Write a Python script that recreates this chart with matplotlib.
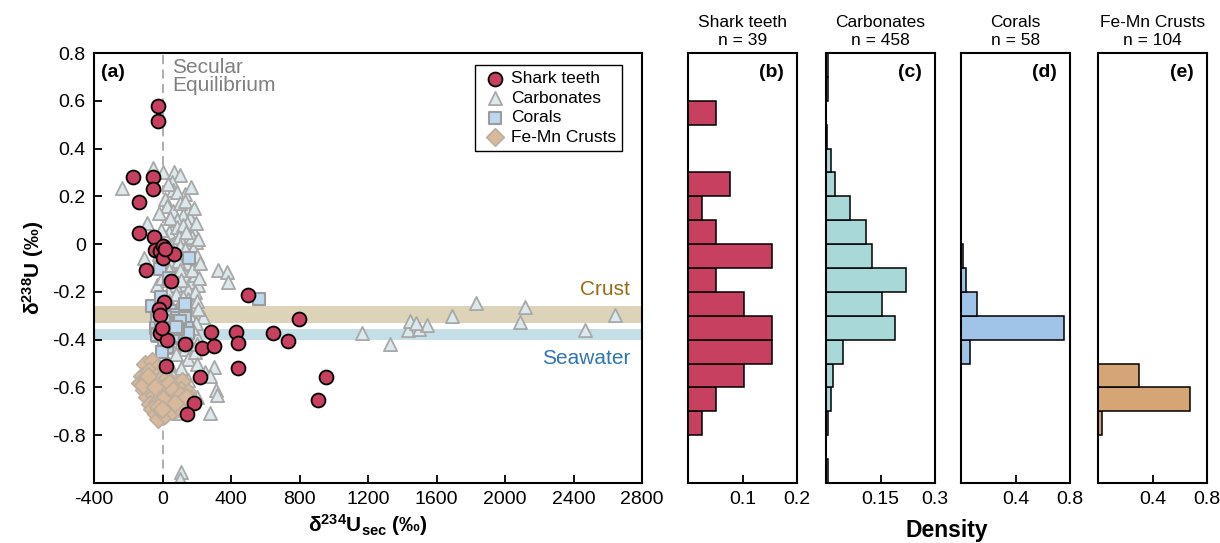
import numpy as np
import matplotlib
matplotlib.use('Agg')
import matplotlib.pyplot as plt

plt.rcParams['font.family'] = ['Liberation Sans', 'DejaVu Sans']
plt.rcParams['mathtext.fontset'] = 'custom'
plt.rcParams['mathtext.rm'] = 'Liberation Sans'
plt.rcParams['mathtext.it'] = 'Liberation Sans:italic'
plt.rcParams['mathtext.bf'] = 'Liberation Sans:bold'
plt.rcParams['axes.unicode_minus'] = False

# --- scatter data: d234U_sec (permil) vs d238U (permil) ---
shark_x = [-25, -25, -170, -54, -54, -136, -136, -48, -42, -13, 0, 5, 68, 15, -95, 50,
           500, 10, -19, -13, -13, 27, 131, 230, 300, 284, 430, 442, 648, 734, 798,
           22, 442, 220, 956, 910, 185, 144, -5]
shark_y = [0.578, 0.515, 0.28, 0.28, 0.23, 0.176, 0.046, 0.029, -0.025, -0.03, -0.01,
           -0.06, -0.04, -0.02, -0.11, -0.155, -0.214, -0.243, -0.27, -0.297, -0.373,
           -0.402, -0.42, -0.436, -0.428, -0.368, -0.368, -0.415, -0.374, -0.405, -0.314,
           -0.511, -0.52, -0.557, -0.557, -0.654, -0.667, -0.712, -0.35]

carb_x = [-235, -55, 5, 68, 100, 57, 62, 131, 30, 85,
          16, 25, 62, 143, 120, 85, 100, 160, 45, -20, 130,
          143, -88, 180, 40, 85, 110, 150, 170, 20, 60, 120, 195, 95, -10, 140,
          100, 130, 180, -20, 30, 80, 150, 45, 110, 170, -110, 200, 60, 10, 135, 90,
          0, 60, 130, 90, 20, 160, -30, 50, 120, 190, 326, 379, 385, 40, 100, 150,
          75, -5, 175, 110, 210, 30,
          190, 80, 10, 150, 40, 100, 170, 60, 130, 0, 120, 200, 20, 85, 160, -20,
          1828, 2114, 2645,
          90, 160, 30, 110, 60, 140, 10, 90, 170, 40, 120, 70, 238, 195, -25, 150,
          200, 55, 125, 1167, 1436, 1500, 1547, 1448, 1483, 2090, 2470, 1693,
          150, 20, 100, 50, 130, 80, 0, 150, 1331, 190, 200,
          40, 110, 60, 150, 303, 250, 200, 20, 280,
          100, 60, 140, 30, 314, 320, 200, 92,
          104, 280, 110, 105,
          210, 220, 185, 205, 175, 215, 195, 165]
carb_y = [0.235, 0.318, 0.30, 0.30, 0.29, 0.26, 0.226, 0.21, 0.25, 0.22,
          0.19, 0.16, 0.14, 0.14, 0.12, 0.10, 0.17, 0.11, 0.11, 0.13, 0.18,
          0.088, 0.088, 0.06, 0.05, 0.07, 0.04, 0.02, 0.03, 0.02, 0.0, 0.08, 0.01, 0.03, 0.06, 0.05,
          -0.01, -0.02, -0.02, -0.04, -0.05, -0.05, -0.06, -0.08, -0.09, -0.1, -0.06, -0.05, -0.03, -0.09, -0.08, -0.07,
          -0.1, -0.12, -0.13, -0.15, -0.15, -0.16, -0.17, -0.18, -0.19, -0.13, -0.11, -0.117, -0.16, -0.11, -0.11, -0.19,
          -0.17, -0.14, -0.11, -0.15, -0.17, -0.2,
          -0.2, -0.21, -0.22, -0.23, -0.24, -0.25, -0.26, -0.27, -0.28, -0.29, -0.22, -0.24, -0.26, -0.29, -0.29, -0.25,
          -0.247, -0.265, -0.298,
          -0.3, -0.3, -0.31, -0.32, -0.33, -0.34, -0.35, -0.36, -0.36, -0.37, -0.38, -0.39, -0.306, -0.33, -0.38, -0.37,
          -0.39, -0.35, -0.35, -0.37, -0.36, -0.357, -0.34, -0.32, -0.33, -0.326, -0.36, -0.30,
          -0.4, -0.41, -0.42, -0.43, -0.44, -0.46, -0.47, -0.48, -0.42, -0.45, -0.42,
          -0.5, -0.52, -0.55, -0.57, -0.515, -0.536, -0.5, -0.59, -0.55,
          -0.62, -0.64, -0.66, -0.69, -0.61, -0.63, -0.64, -0.708,
          -0.708, -0.708, -0.955, -0.985,
          0.02, -0.08, 0.15, -0.27, -0.35, -0.14, 0.09, 0.24]

coral_x = [156, -13, 40, 566, -60, 45, -10, -20, 75, 131,
           -30, 0, 27, 131, -5, 60, 10, 90, 120, 40,
           75, 5, 100, 140, 20, -40, 50, 110, -15, 80,
           30, 130, 0, 65, 95, -25, 15, 55, 145, 85,
           35, -10, 115, 70, 25, 105, 45, -35, 150, 10,
           60, 90, 27, 10, 130, -5, 20, 80]
coral_y = [-0.06, -0.105, -0.14, -0.23, -0.26, -0.28, -0.22, -0.29, -0.295, -0.25,
           -0.31, -0.32, -0.33, -0.356, -0.36, -0.35, -0.38, -0.37, -0.34, -0.36,
           -0.31, -0.34, -0.39, -0.38, -0.37, -0.35, -0.32, -0.36, -0.38, -0.33,
           -0.395, -0.31, -0.34, -0.37, -0.33, -0.375, -0.305, -0.385, -0.35, -0.38,
           -0.34, -0.33, -0.39, -0.355, -0.36, -0.32, -0.39, -0.38, -0.37, -0.32,
           -0.385, -0.355, -0.43, -0.41, -0.42, -0.45, -0.35, -0.345]

femn_x = [-100, -60, -30, -120, -80, -40, 0,
          -130, -95, -55, -15, 25,
          -110, -70, -30, 10, 50, 90, 116,
          -90, -50, -10, 30, 70, 110, 150,
          -75, -35, 5, 45, 85, 125, 165,
          -60, -20, 20, 60, 100, 140, 175,
          -40, 0, 40, 80, 120,
          -25, 15, 55, 95,
          -10, 30, 70, 0, 40, -25,
          -115, -85, -45, 60, 100, 135, -5, 75]
femn_y = [-0.50, -0.49, -0.52, -0.55, -0.53, -0.55, -0.55,
          -0.58, -0.57, -0.58, -0.57, -0.56,
          -0.61, -0.60, -0.61, -0.60, -0.59, -0.58, -0.575,
          -0.64, -0.63, -0.64, -0.63, -0.62, -0.61, -0.62,
          -0.67, -0.66, -0.67, -0.66, -0.65, -0.64, -0.65,
          -0.69, -0.70, -0.69, -0.68, -0.67, -0.66, -0.655,
          -0.71, -0.72, -0.70, -0.69, -0.67,
          -0.73, -0.715, -0.70, -0.685,
          -0.62, -0.60, -0.65, -0.65, -0.58, -0.68,
          -0.59, -0.55, -0.60, -0.61, -0.63, -0.64, -0.69, -0.665]

# --- histogram counts, 0.1 permil bins from -1.0 (bottom) to 0.8 (top) ---
shark_counts = [0, 0, 1, 2, 4, 6, 6, 4, 2, 6, 2, 1, 3, 0, 0, 2, 0, 0]
carb_counts = [2, 0, 2, 6, 9, 21, 87, 70, 101, 58, 50, 30, 11, 6, 1, 0, 2, 2]
coral_counts = [0, 0, 0, 0, 0, 4, 44, 7, 2, 1, 0, 0, 0, 0, 0, 0, 0, 0]
femn_counts = [0, 0, 3, 70, 31, 0, 0, 0, 0, 0, 0, 0, 0, 0, 0, 0, 0, 0]

bin_edges = np.round(np.arange(-1.0, 0.8001, 0.1), 2)
y_ticks = [-0.8, -0.6, -0.4, -0.2, 0, 0.2, 0.4, 0.6, 0.8]
y_ticklabels = ['-0.8', '-0.6', '-0.4', '-0.2', '0', '0.2', '0.4', '0.6', '0.8']

c_shark = '#C8405F'
W, H = 1220, 543
fig = plt.figure(figsize=(W / 100, H / 100), dpi=100)

ax = fig.add_axes([94 / W, 1 - 483 / H, 548 / W, 430 / H])
ax.axhspan(-0.33, -0.26, color='#DDD3B9', lw=0, zorder=0)
ax.axhspan(-0.40, -0.355, color='#C4DFE8', lw=0, zorder=0)
ax.axvline(0, color='#A8A8A8', ls=(0, (5, 3)), lw=1.3, zorder=1)

h_carb = ax.scatter(carb_x, carb_y, marker='^', s=90, facecolor='#DCE9EC',
                    edgecolor='#A8A8A8', linewidth=1.3, zorder=2)
h_coral = ax.scatter(coral_x, coral_y, marker='s', s=80, facecolor='#BDD7EE',
                     edgecolor='#9C9C9C', linewidth=1.5, zorder=3)
h_femn = ax.scatter(femn_x, femn_y, marker='D', s=80, facecolor='#D8B99B',
                    edgecolor='#BBAE9F', linewidth=1.2, zorder=4)
h_shark = ax.scatter(shark_x, shark_y, marker='o', s=100, facecolor=c_shark,
                     edgecolor='black', linewidth=1.3, zorder=5)

ax.set_xlim(-400, 2800)
ax.set_ylim(-1.0, 0.8)
ax.set_xticks(np.arange(-400, 2801, 400))
ax.set_yticks(y_ticks)
ax.set_yticklabels(y_ticklabels)
ax.tick_params(direction='in', length=6, width=1.3, labelsize=14, pad=6)
for s in ax.spines.values():
    s.set_linewidth(1.5)
ax.set_xlabel(r'$\mathbf{\delta^{234}U_{sec}}$ (‰)', fontsize=15, fontweight='bold', labelpad=3)
ax.set_ylabel(r'$\mathbf{\delta^{238}U}$ (‰)', fontsize=15, fontweight='bold', labelpad=4)

ax.text(0.012, 0.975, '(a)', transform=ax.transAxes, fontsize=14, fontweight='bold',
        ha='left', va='top')
ax.text(58, 0.78, 'Secular\nEquilibrium', color='#808080', fontsize=15,
        ha='left', va='top', linespacing=0.92)
ax.text(2731, -0.19, 'Crust', color='#9A6A14', fontsize=15, ha='right', va='center')
ax.text(2731, -0.478, 'Seawater', color='#2E75B6', fontsize=15, ha='right', va='center')

ax.legend([h_shark, h_carb, h_coral, h_femn],
          ['Shark teeth', 'Carbonates', 'Corals', 'Fe-Mn Crusts'],
          loc='upper right', bbox_to_anchor=(0.9635, 0.972), borderaxespad=0,
          fancybox=False, edgecolor='black', framealpha=1, fontsize=12.5,
          handletextpad=0.1, labelspacing=0.25, borderpad=0.35, handlelength=1.6)

# --- marginal density panels ---
panels = [
    ('Shark teeth', shark_counts, c_shark, 688, 0.2, [0.1, 0.2], '(b)'),
    ('Carbonates', carb_counts, '#A9D8D8', 826, 0.3, [0.15, 0.3], '(c)'),
    ('Corals', coral_counts, '#9FC4E8', 961, 0.8, [0.4, 0.8], '(d)'),
    ('Fe-Mn Crusts', femn_counts, '#D6A576', 1098, 0.8, [0.4, 0.8], '(e)'),
]
centers = (bin_edges[:-1] + bin_edges[1:]) / 2
for name, counts, col, left, xmax, ticks, tag in panels:
    n = sum(counts)
    dens = np.array(counts) / n
    hx = fig.add_axes([left / W, 1 - 483 / H, 109 / W, 430 / H])
    keep = dens > 0
    hx.barh(centers[keep], dens[keep], height=0.1, color=col, edgecolor='black', linewidth=1.1)
    hx.set_xlim(0, xmax)
    hx.set_ylim(-1.0, 0.8)
    hx.set_yticks([])
    hx.set_xticks(ticks)
    hx.set_xticklabels(['{:g}'.format(t) for t in ticks])
    hx.tick_params(direction='in', length=6, width=1.3, labelsize=14, pad=6)
    for s in hx.spines.values():
        s.set_linewidth(1.5)
    hx.text(0.5, 1.012, f'{name}\nn = {n}', transform=hx.transAxes, fontsize=12.5,
            ha='center', va='bottom', linespacing=1.2)
    hx.text(0.88, 0.975, tag, transform=hx.transAxes, fontsize=14, fontweight='bold',
            ha='right', va='top')

fig.text(947 / W, 1 - 531 / H, 'Density', fontsize=16.5, fontweight='bold',
         ha='center', va='center')

fig.savefig('out.png', dpi=100)
